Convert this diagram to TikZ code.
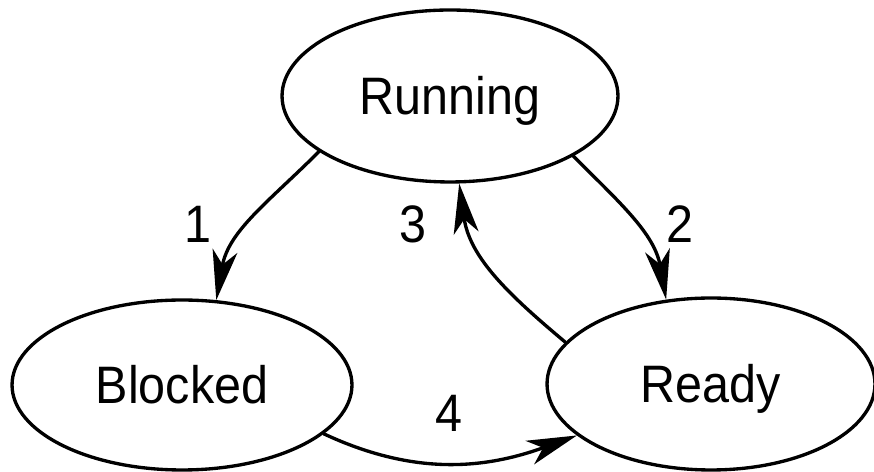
\documentclass[tikz,border=0pt]{standalone}
\usepackage{fontspec}
\setmainfont{Liberation Sans}[FakeStretch=0.92]
\usetikzlibrary{shapes.geometric,arrows.meta}
\begin{document}
\begin{tikzpicture}[x=0.02cm,y=0.02cm,line join=round,line cap=round,
 font=\fontsize{30}{36}\selectfont,>={Stealth[length=1cm,width=0.5cm,inset=0.28cm]},
 state/.style={draw,ellipse,line width=1.9pt,inner sep=0pt,text height=21.5pt,text depth=0pt},
 num/.style={inner sep=0pt,text height=21.5pt,text depth=0pt},
 trans/.style={->,line width=1.9pt}]
 \useasboundingbox (0,0) rectangle (874,472);
 \node[state,minimum width=6.72cm,minimum height=3.44cm] (run) at (450,376) {Running};
 \node[state,minimum width=6.8cm,minimum height=3.4cm] (blk) at (182,87) {Blocked};
 \node[state,minimum width=6.56cm,minimum height=3.44cm] (rdy) at (711,88) {Ready};
 \node[num] (n1) at (198,248) {1};
 \node[num] (n2) at (680,248) {2};
 \node[num] (n3) at (413,248) {3};
 \node[num] (n4) at (449,59) {4};
 \draw[trans] (run.203) to[out=225,in=80] (blk.68);
 \draw[trans] (run.-26) to[out=-45,in=100] (rdy.118);
 \draw[trans] (rdy.164) to[out=140,in=-82] (run.-84);
 \draw[trans] (blk.-19) to[out=-25,in=200] (rdy.201);
\end{tikzpicture}
\end{document}
